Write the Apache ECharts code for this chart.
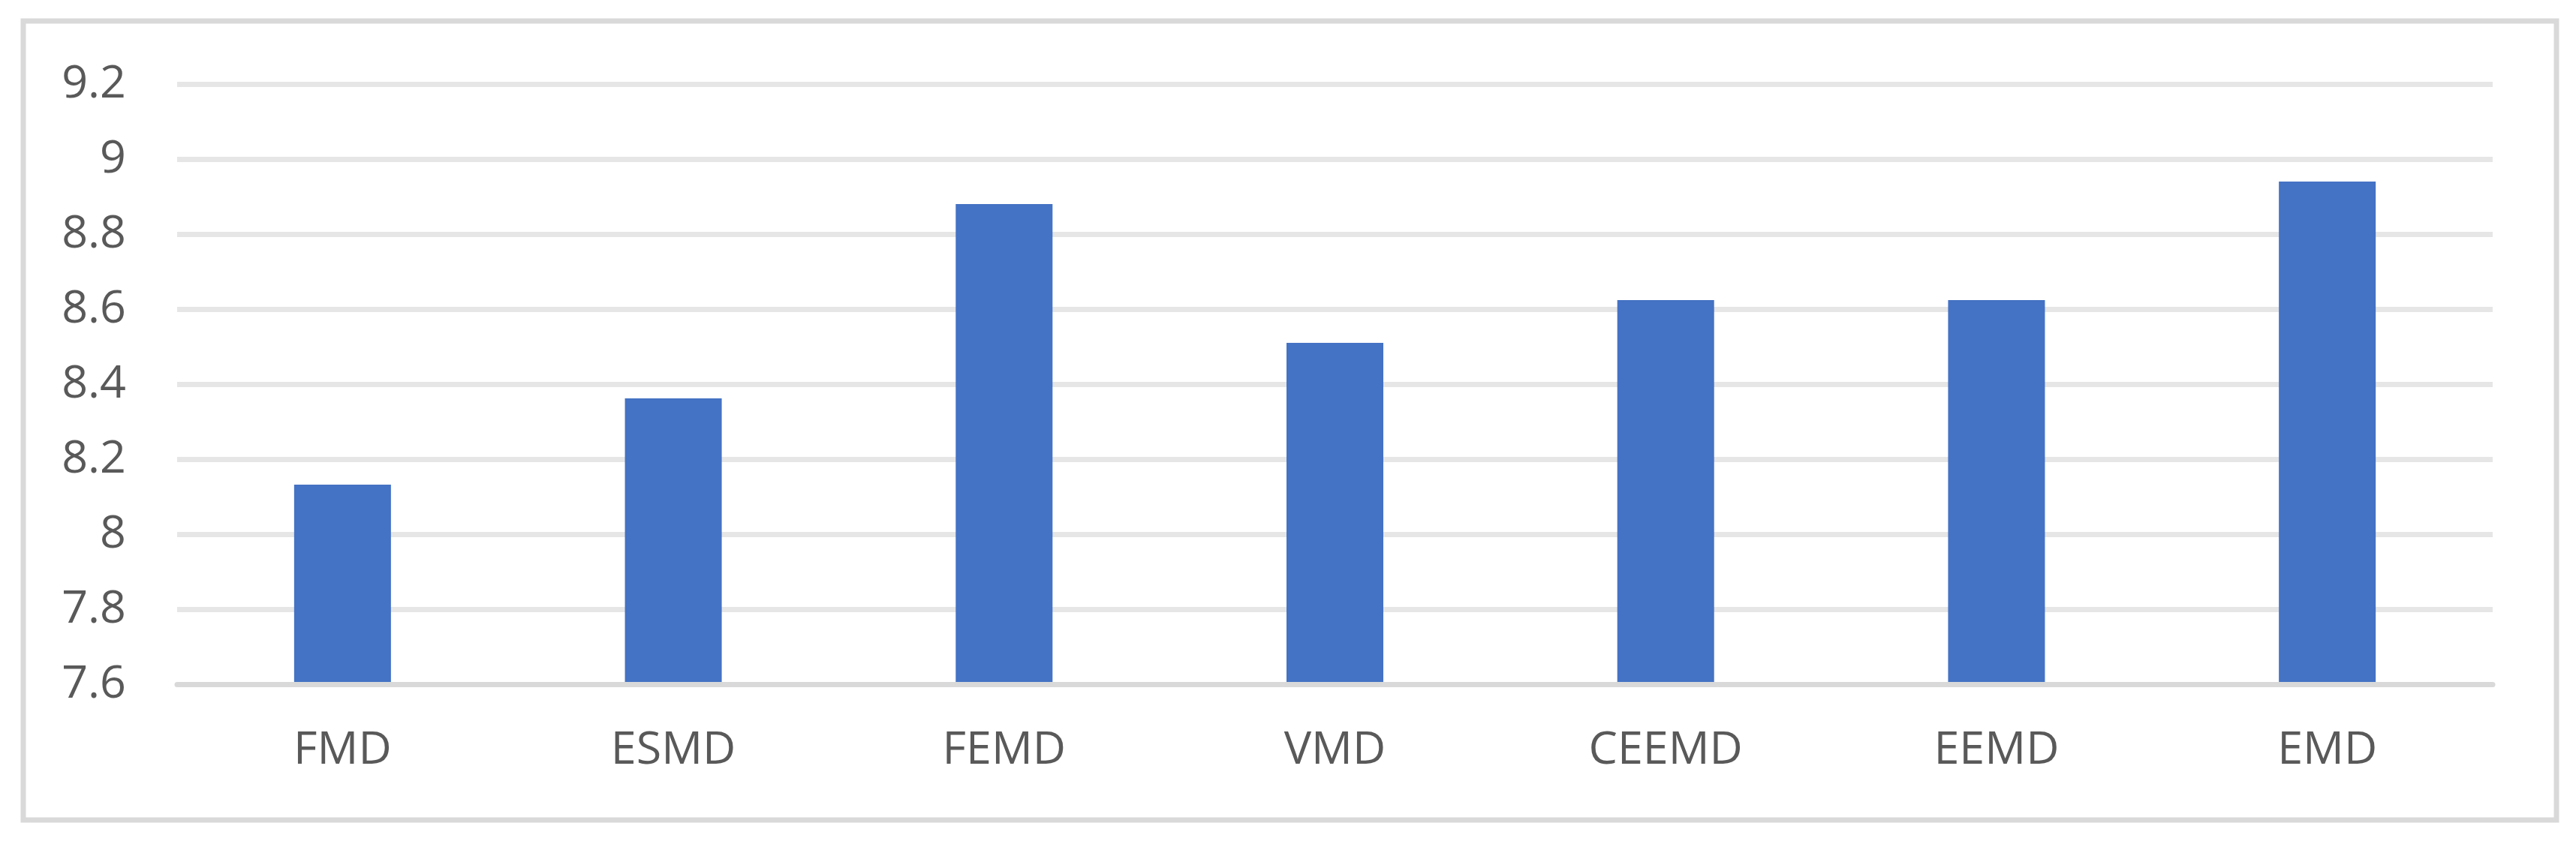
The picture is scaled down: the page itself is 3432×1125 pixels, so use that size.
<!DOCTYPE html>
<html>
<head>
<meta charset="utf-8">
<script src="https://cdn.jsdelivr.net/npm/echarts@6/dist/echarts.min.js"></script>
<style>
html,body{margin:0;padding:0;background:#fff;}
#chart{width:3432px;height:1125px;}
</style>
</head>
<body>
<div id="chart"></div>
<script>
const categories = ['FMD', 'ESMD', 'FEMD', 'VMD', 'CEEMD', 'EEMD', 'EMD'];
const values = [8.133, 8.363, 8.881, 8.511, 8.625, 8.625, 8.941];
const yMin = 7.6;
const yMax = 9.2;
const yStep = 0.2;

const chart = echarts.init(document.getElementById('chart'), null, {renderer: 'canvas'});
chart.setOption({
  backgroundColor: '#ffffff',
  animation: false,
  textStyle: {fontFamily: 'Open Sans, Liberation Sans, sans-serif'},
  graphic: [{
    type: 'rect',
    shape: {x: 31, y: 28, width: 3375, height: 1065},
    style: {fill: 'none', stroke: '#d9d9d9', lineWidth: 7},
    silent: true
  }],
  grid: {left: 236, right: 111, top: 112.5, bottom: 212.5},
  xAxis: {
    type: 'category',
    data: categories,
    z: 5,
    axisLine: {show: true, lineStyle: {color: '#d9d9d9', width: 7}},
    axisTick: {show: false},
    axisLabel: {color: '#595959', fontSize: 61, margin: 58, fontFamily: 'Open Sans'},
    splitLine: {show: false}
  },
  yAxis: {
    type: 'value',
    min: yMin,
    max: yMax,
    interval: yStep,
    axisLine: {show: false},
    axisTick: {show: false},
    axisLabel: {color: '#595959', fontSize: 61, margin: 68, fontFamily: 'Open Sans',
      formatter: v => String(Math.round(v * 10) / 10)},
    splitLine: {show: true, lineStyle: {color: '#e6e6e6', width: 7}}
  },
  series: [{
    type: 'bar',
    data: values,
    barWidth: 129,
    itemStyle: {color: '#4472c4'}
  }]
});
</script>
</body>
</html>
